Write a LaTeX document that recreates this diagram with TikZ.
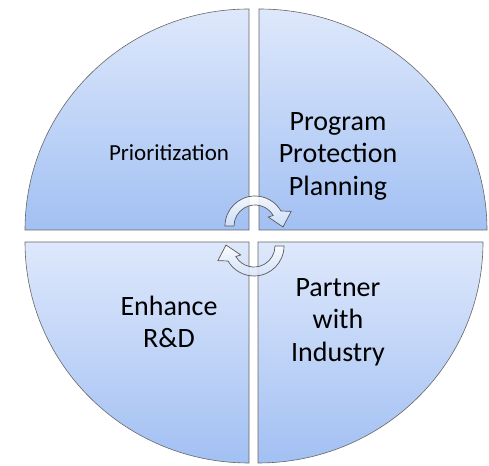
\documentclass[tikz,border=0pt]{standalone}
\usepackage{fontspec}
\setmainfont{Carlito}
\begin{document}
\begin{tikzpicture}[x=1pt,y=1pt,
  quad/.style={draw=gray!80!black, line width=0.6pt, top color=qtop, bottom color=qbot, shading angle=0},
  cyc/.style={draw=gray!70!black, line width=0.7pt, top color=white, bottom color=atop, fill opacity=0.85},
  lbl/.style={align=center, text=black, inner sep=0pt}
]
\definecolor{qtop}{HTML}{DEE8FB}
\definecolor{qbot}{HTML}{A2C0F3}
\definecolor{atop}{HTML}{D4E2FA}
\useasboundingbox (0,0) rectangle (489,465);
% quadrants
\path[quad] (249,235) -- (25,235) arc[start angle=180, end angle=90, x radius=224, y radius=221] -- cycle;
\path[quad] (259,235) -- (259,456) arc[start angle=90, end angle=0, x radius=228, y radius=221] -- cycle;
\path[quad] (249,223) -- (249,2) arc[start angle=270, end angle=180, x radius=224, y radius=221] -- cycle;
\path[quad] (258,223) -- (483,223) arc[start angle=0, end angle=-90, x radius=225, y radius=221] -- cycle;
% cycle arrows
\coordinate (ct) at (255,239);
\coordinate (cb) at (254,219);
\path[cyc] ([shift={(180:30)}]ct) arc[start angle=180, end angle=30, radius=30]
  -- ([shift={(22:39)}]ct) -- ([shift={(-2:28)}]ct) -- ([shift={(34:16)}]ct)
  -- ([shift={(30:21)}]ct) arc[start angle=30, end angle=180, radius=21] -- cycle;
\path[cyc] ([shift={(0:30)}]cb) arc[start angle=0, end angle=-150, radius=30]
  -- ([shift={(202:39)}]cb) -- ([shift={(178:28)}]cb) -- ([shift={(214:16)}]cb)
  -- ([shift={(210:21)}]cb) arc[start angle=-150, end angle=0, radius=21] -- cycle;
% labels
\node[lbl, font=\fontsize{23}{27}\selectfont] (p1) at (169,312) {Prioritization};
\node[lbl, font=\fontsize{28}{32.5}\selectfont] (p2) at (338,309) {Program\\Protection\\Planning};
\node[lbl, font=\fontsize{28}{32.5}\selectfont] (p3) at (169,143) {Enhance\\R\&D};
\node[lbl, font=\fontsize{28}{32.5}\selectfont] (p4) at (338,143) {Partner\\with\\Industry};
\end{tikzpicture}
\end{document}
